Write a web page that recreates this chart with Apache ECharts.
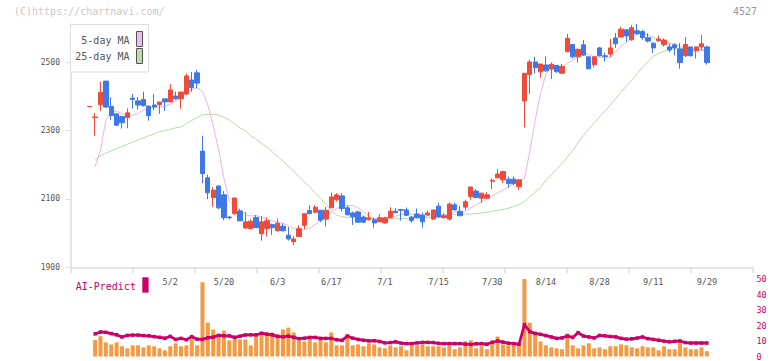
<!DOCTYPE html>
<html><head><meta charset="utf-8">
<script src="https://cdn.jsdelivr.net/npm/echarts@6/dist/echarts.min.js"></script>
<style>html,body{margin:0;padding:0;background:#fff}#c{width:772px;height:361px}</style>
</head><body><div id="c"></div>
<script>
const dates = ["4/10","4/11","4/14","4/15","4/16","4/17","4/18","4/21","4/22","4/23","4/24","4/25","4/28","4/30","5/1","5/2","5/7","5/8","5/9","5/12","5/13","5/14","5/15","5/16","5/19","5/20","5/21","5/22","5/23","5/26","5/27","5/28","5/29","5/30","6/2","6/3","6/4","6/5","6/6","6/9","6/10","6/11","6/12","6/13","6/16","6/17","6/18","6/19","6/20","6/23","6/24","6/25","6/26","6/27","6/30","7/1","7/2","7/3","7/4","7/7","7/8","7/9","7/10","7/11","7/14","7/15","7/16","7/17","7/18","7/22","7/23","7/24","7/25","7/28","7/29","7/30","7/31","8/1","8/4","8/5","8/6","8/7","8/8","8/12","8/13","8/14","8/15","8/18","8/19","8/20","8/21","8/22","8/25","8/26","8/27","8/28","8/29","9/1","9/2","9/3","9/4","9/5","9/8","9/9","9/10","9/11","9/12","9/16","9/17","9/18","9/19","9/22","9/24","9/25","9/26","9/29"];
const shownDates = ["5/2","5/20","6/3","6/17","7/1","7/15","7/30","8/14","8/28","9/11","9/29"];
const opens = [2370,2338,2376,2445,2371,2349,2341,2338,2395,2387,2391,2372,2375,2376,2393,2384,2401,2393,2407,2448,2469,2240,2162,2104,2138,2112,2047,2057,2065,2015,2013,2046,1998,2013,2025,2007,2020,1994,1975,1990,2023,2066,2061,2067,2041,2074,2098,2109,2074,2059,2062,2047,2039,2039,2033,2030,2045,2064,2069,2068,2047,2056,2053,2053,2041,2079,2045,2041,2083,2064,2076,2107,2123,2102,2102,2152,2162,2156,2158,2158,2136,2387,2464,2501,2472,2492,2480,2491,2468,2531,2552,2516,2551,2516,2493,2542,2519,2524,2571,2574,2595,2566,2592,2590,2572,2556,2563,2552,2545,2551,2539,2519,2545,2534,2545,2545];
const closes = [2371,2340,2412,2369,2344,2316,2323,2352,2391,2375,2373,2344,2369,2384,2384,2419,2393,2413,2460,2426,2439,2174,2118,2126,2074,2045,2045,2103,2036,2033,2035,2016,2033,2036,2016,2029,2007,1983,1983,2013,2057,2057,2076,2038,2067,2106,2112,2072,2054,2048,2032,2032,2045,2030,2045,2045,2064,2060,2067,2052,2037,2045,2033,2059,2068,2047,2051,2085,2068,2051,2092,2135,2104,2117,2112,2154,2173,2180,2145,2145,2156,2468,2501,2484,2495,2475,2494,2472,2488,2570,2516,2538,2521,2481,2516,2519,2517,2542,2554,2597,2577,2601,2584,2572,2562,2542,2568,2565,2536,2542,2499,2552,2519,2545,2554,2499];
const lows = [2370,2285,2358,2367,2331,2314,2306,2307,2365,2362,2370,2329,2360,2349,2358,2384,2390,2364,2405,2414,2424,2146,2099,2077,2070,2038,2040,2054,2035,2012,2013,2015,1978,1990,1995,2005,2005,1978,1965,1990,2012,2055,2060,2032,2019,2074,2092,2063,2052,2024,2030,2030,2037,2016,2032,2028,2043,2058,2037,2050,2030,2043,2016,2052,2038,2045,2043,2037,2066,2049,2068,2098,2102,2089,2100,2129,2160,2147,2133,2140,2127,2309,2407,2467,2455,2472,2451,2470,2466,2529,2511,2499,2519,2480,2485,2517,2502,2515,2542,2572,2560,2563,2580,2566,2558,2527,2560,2546,2529,2520,2481,2516,2517,2511,2536,2493];
const highs = [2371,2352,2443,2445,2398,2349,2341,2365,2407,2398,2414,2372,2407,2384,2393,2436,2414,2413,2467,2472,2478,2285,2171,2135,2140,2123,2050,2103,2071,2062,2041,2053,2050,2046,2028,2043,2028,2018,1992,2023,2057,2082,2082,2067,2077,2119,2117,2117,2081,2063,2066,2051,2062,2045,2055,2048,2076,2073,2071,2075,2051,2072,2060,2066,2068,2089,2058,2090,2089,2080,2098,2135,2129,2117,2120,2160,2188,2183,2165,2165,2156,2468,2508,2516,2495,2518,2500,2492,2495,2583,2552,2540,2565,2516,2516,2545,2528,2568,2586,2604,2595,2609,2612,2595,2585,2558,2578,2570,2554,2556,2556,2574,2545,2545,2580,2548];
const ma5 = [null,2195,2243,2330,2360,2356,2350,2343,2345,2350,2360,2366,2369,2369,2371,2378,2387,2396,2410,2420,2426,2415,2375,2315,2245,2160,2095,2080,2068,2055,2050,2052,2046,2041,2036,2032,2029,2022,2014,2008,2010,2014,2025,2038,2050,2061,2072,2078,2081,2081,2074,2062,2050,2043,2040,2039,2046,2049,2055,2058,2056,2052,2047,2045,2048,2050,2052,2058,2062,2060,2064,2074,2083,2091,2100,2110,2118,2126,2135,2146,2153,2160,2240,2330,2408,2465,2490,2488,2485,2497,2506,2515,2525,2524,2516,2515,2512,2515,2530,2548,2558,2573,2582,2584,2580,2573,2567,2562,2556,2552,2546,2541,2534,2533,2534,2535];
const ma25 = [null,2214,2226,2234,2241,2247,2254,2260,2267,2273,2279,2285,2290,2297,2300,2304,2308,2311,2320,2330,2338,2346,2348,2348,2346,2339,2331,2320,2307,2300,2285,2275,2263,2252,2238,2224,2210,2196,2182,2166,2150,2135,2118,2102,2084,2066,2053,2048,2046,2045,2044,2043,2043,2042,2042,2042,2042,2042,2042,2043,2044,2046,2048,2050,2052,2053,2054,2055,2055,2055,2056,2056,2057,2059,2061,2064,2067,2069,2073,2078,2084,2092,2106,2120,2134,2154,2170,2188,2204,2222,2242,2265,2285,2305,2322,2340,2357,2375,2394,2412,2430,2448,2467,2485,2502,2518,2527,2532,2537,2539,2541,2540,2539,2538,2537,2536];
const volumes = [null,10.6,13.1,9.1,7.8,9.1,6.6,5.3,7.2,7.2,5.9,7.2,6.6,5.3,4.0,6.6,8.5,6.6,7.2,11.0,7.2,47.9,21.8,17.4,13.6,16.7,10.4,12.3,11.0,11.0,7.2,14.2,15.5,15.5,15.5,14.2,17.4,18.6,15.5,10.4,9.7,11.7,9.1,11.0,9.1,15.5,7.2,7.2,14.2,7.2,7.8,6.6,8.5,7.8,5.9,5.3,7.2,5.9,6.6,4.0,7.2,7.2,7.8,6.6,6.6,6.6,5.9,7.2,4.7,5.9,9.7,10.4,5.3,6.6,4.7,8.5,12.9,7.8,7.2,7.2,7.2,50,21.8,14.8,9.7,7.2,5.9,5.3,4.7,14.8,7.2,5.3,7.2,8.5,5.3,5.9,4.7,6.6,6.6,7.8,7.2,5.9,5.3,6.6,5.9,5.9,4.0,6.6,4.7,4.7,8.5,5.9,4.7,4.7,5.9,3.4];
const aiPredict = [null,14.6,15.8,15.6,14.8,14.0,12.6,13.6,13.8,13.8,13.5,13.3,12.8,12.4,11.8,13.0,11.0,11.7,10.8,12.8,11.2,11.0,12.1,12.5,13.6,13.3,13.3,12.4,13.1,13.9,14.0,14.0,15.0,14.4,14.0,13.0,12.7,13.2,12.4,11.5,11.8,12.3,12.3,11.7,11.7,11.7,10.8,10.4,13.2,11.8,11.0,10.5,10.1,10.2,9.7,8.8,9.0,9.5,8.6,8.3,8.3,8.8,9.1,9.1,9.0,8.5,8.3,8.3,8.3,8.3,8.0,7.8,8.2,8.3,7.9,9.2,10.0,9.3,8.6,8.3,7.9,20.6,16.0,14.9,14.3,13.5,12.6,11.7,12.0,13.2,12.3,15.4,13.2,12.6,12.0,13.6,13.3,12.9,12.7,11.7,11.2,11.4,11.9,12.6,11.5,11.0,10.5,9.9,9.5,9.8,10.0,9.0,8.7,8.7,8.7,8.7];
const priceTicks = [1900,2100,2300,2500];
const aiTicks = [0,10,20,30,40,50];

const LEAD = 3, TRAIL = 8;
const cats = [];
for (let i = 0; i < LEAD; i++) cats.push('lead' + i);
dates.forEach(d => cats.push(d));
for (let i = 0; i < TRAIL; i++) cats.push('trail' + i);
const pad = arr => Array(LEAD).fill(null).concat(arr, Array(TRAIL).fill(null));
const candle = Array(LEAD).fill('-').concat(dates.map((d, i) => [opens[i], closes[i], lows[i], highs[i]]), Array(TRAIL).fill('-'));

const FONT = 'DejaVu Sans Mono';
const chart = echarts.init(document.getElementById('c'), null, {renderer: 'svg'});
const L = 71, R = 19.5;
chart.setOption({
  animation: false,
  backgroundColor: '#fff',
  grid: [
    {left: L, right: R, top: 24, height: 243.3},
    {left: L, right: R, top: 279, height: 78.7},
    {left: 70.7, right: 19.7, top: 24, height: 243.3}
  ],
  xAxis: [
    {type: 'category', gridIndex: 0, data: cats, boundaryGap: true,
     axisLine: {show: false}, axisTick: {show: false}, splitLine: {show: false},
     axisLabel: {interval: (i, v) => shownDates.indexOf(v) >= 0, color: '#555', fontSize: 8.5, fontFamily: FONT, margin: 10}},
    {type: 'value', gridIndex: 2, min: 0, max: 11, interval: 1,
     axisLine: {show: true, lineStyle: {color: '#ddd', width: 1.5}},
     axisTick: {show: true, length: 6, lineStyle: {color: '#ddd', width: 1.5}},
     axisLabel: {show: false}, splitLine: {show: false}},
    {type: 'category', gridIndex: 1, data: cats, boundaryGap: true, show: false}
  ],
  yAxis: [
    {type: 'value', gridIndex: 0, min: 1900, max: 2612,
     axisLine: {show: true, lineStyle: {color: '#ddd', width: 1.5}},
     axisTick: {show: true, length: 5, customValues: priceTicks, lineStyle: {color: '#ddd'}},
     axisLabel: {customValues: priceTicks, formatter: v => String(v), color: '#555', fontSize: 8, fontFamily: FONT, margin: 11},
     splitLine: {show: false}},
    {type: 'value', gridIndex: 1, min: 0, max: 50, show: false},
    {type: 'value', gridIndex: 1, min: 0, max: 50, position: 'right',
     axisLine: {show: false}, axisTick: {show: false}, splitLine: {show: false},
     axisLabel: {customValues: aiTicks, formatter: v => String(v), color: '#cc0066', fontSize: 8.5, fontFamily: FONT, margin: 4}},
    {type: 'value', gridIndex: 2, show: false}
  ],
  series: [
    {type: 'line', xAxisIndex: 0, yAxisIndex: 0, data: pad(ma25), symbol: 'none',
     lineStyle: {color: '#b5dca6', width: 1}, silent: true, z: 1},
    {type: 'line', xAxisIndex: 0, yAxisIndex: 0, data: pad(ma5), symbol: 'none',
     lineStyle: {color: '#e9b4ea', width: 1}, silent: true, z: 1},
    {type: 'candlestick', xAxisIndex: 0, yAxisIndex: 0, data: candle, barWidth: 4.8, z: 2,
     itemStyle: {color: '#ef4b3b', color0: '#3f78e8', borderColor: '#ef4b3b', borderColor0: '#3f78e8', borderWidth: 1}},
    {type: 'bar', xAxisIndex: 2, yAxisIndex: 1, data: pad(volumes), barWidth: 4,
     itemStyle: {color: '#f39a42'}, z: 1},
    {type: 'line', xAxisIndex: 2, yAxisIndex: 2, data: pad(aiPredict), symbol: 'rect', symbolSize: 3.5, showAllSymbol: true,
     lineStyle: {color: '#cc0066', width: 2.8}, itemStyle: {color: '#cc0066'}, z: 3}
  ],
  graphic: [
    {type: 'text', left: 14, top: 6, z: 100, style: {text: '(C)https://chartnavi.com/', fill: '#c8c8c8', font: '10px "DejaVu Sans Mono"'}},
    {type: 'text', right: 15, top: 6, z: 100, style: {text: '4527', fill: '#999', font: '10px "DejaVu Sans Mono"'}},
    {type: 'rect', z: 100, shape: {x: 70.5, y: 24.5, width: 78, height: 47.5}, style: {fill: '#fff', stroke: '#ddd', lineWidth: 1}},
    {type: 'text', z: 101, x: 129.5, y: 40.7, style: {text: '5-day MA', fill: '#555', font: '10px "DejaVu Sans Mono"', align: 'right', verticalAlign: 'middle'}},
    {type: 'text', z: 101, x: 129.5, y: 56.7, style: {text: '25-day MA', fill: '#555', font: '10px "DejaVu Sans Mono"', align: 'right', verticalAlign: 'middle'}},
    {type: 'rect', z: 101, shape: {x: 136.5, y: 31.5, width: 6, height: 15}, style: {fill: '#eebbee', stroke: '#555', lineWidth: 1}},
    {type: 'rect', z: 101, shape: {x: 136.5, y: 48.5, width: 6, height: 15}, style: {fill: '#bbddaa', stroke: '#555', lineWidth: 1}},
    {type: 'text', z: 101, x: 75.7, y: 286, style: {text: 'AI-Predict', fill: '#cc0066', font: '10px "DejaVu Sans Mono"', verticalAlign: 'middle'}},
    {type: 'rect', z: 101, shape: {x: 142.3, y: 277.3, width: 6.3, height: 15.3}, style: {fill: '#cc0066'}}
  ]
});
</script></body></html>
